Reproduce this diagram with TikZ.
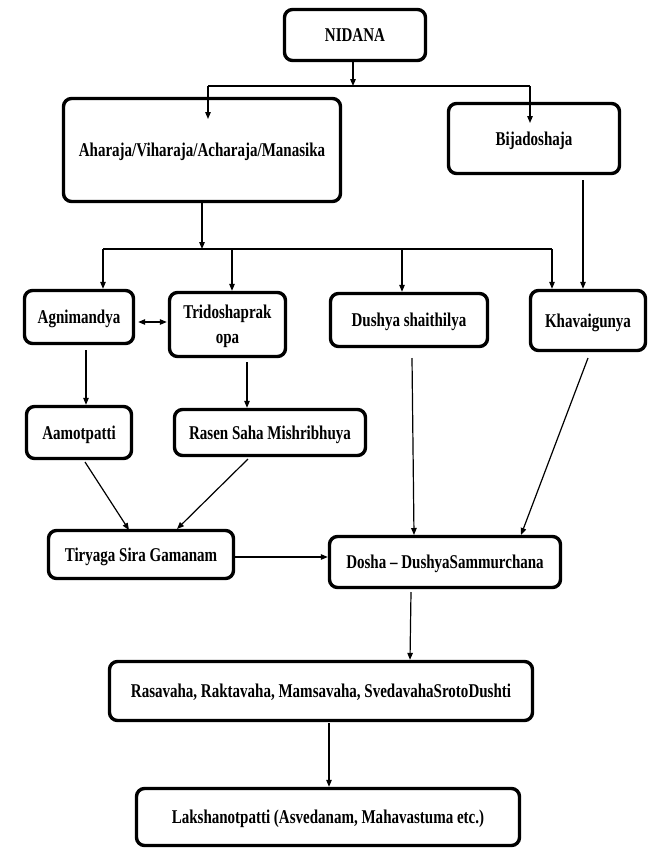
\documentclass[tikz,border=0pt]{standalone}
\usepackage{fontspec}
\setmainfont{Liberation Serif}[FakeStretch=0.77]
\usetikzlibrary{arrows.meta}
\begin{document}
\begin{tikzpicture}[x=1pt,y=-1pt,
  box/.style={draw=black, line width=3.4pt, rounded corners=8pt, fill=white,
    inner sep=2pt, align=center, text depth=0pt, font=\fontsize{19.5}{25}\selectfont\bfseries},
  conn/.style={draw=black, line width=1.2pt},
  arr/.style={conn, -{Triangle[length=7pt,width=5.5pt]}},
  darr/.style={conn, {Triangle[length=7pt,width=5.5pt]}-{Triangle[length=7pt,width=5.5pt]}}]
\useasboundingbox (0,0) rectangle (668,849);
% nodes
\node[box, minimum width=141pt, minimum height=51pt] (nidana) at (355,35) {NIDANA};
\node[box, minimum width=277pt, minimum height=103pt] (ahara) at (202,150) {Aharaja/Viharaja/Acharaja/Manasika};
\node[box, minimum width=171pt, minimum height=70pt] (bija) at (534,138.5) {Bijadoshaja};
\node[box, minimum width=109pt, minimum height=53pt] (agni) at (79,317) {Agnimandya};
\node[box, minimum width=116pt, minimum height=64pt] (tri) at (227.5,324.5) {Tridoshaprak\\opa};
\node[box, minimum width=157pt, minimum height=53pt] (dushya) at (409,320) {Dushya shaithilya};
\node[box, minimum width=115pt, minimum height=60pt] (khava) at (588,320.5) {Khavaigunya};
\node[box, minimum width=105pt, minimum height=52pt] (aamo) at (79,432.5) {Aamotpatti};
\node[box, minimum width=191pt, minimum height=46pt] (rasen) at (270,432.5) {Rasen Saha Mishribhuya};
\node[box, minimum width=185pt, minimum height=48pt] (tiry) at (141,554.5) {Tiryaga Sira Gamanam};
\node[box, minimum width=231pt, minimum height=51pt] (dosha) at (445,562) {Dosha -- DushyaSammurchana};
\node[box, minimum width=423pt, minimum height=59pt] (rasa) at (321,691) {Rasavaha, Raktavaha, Mamsavaha, SvedavahaSrotoDushti};
\node[box, minimum width=383pt, minimum height=57pt] (laksh) at (328,817) {Lakshanotpatti (Asvedanam, Mahavastuma etc.)};
% helper coordinates
\coordinate (j1) at (353,86);
\coordinate (j1l) at (208,86);
\coordinate (j1r) at (530,86);
\coordinate (aharaIn) at (208,119);
\coordinate (bijaIn) at (530,123);
\coordinate (j2) at (202,249);
\coordinate (j2l) at (103,249);
\coordinate (j2r) at (552,249);
\coordinate (j2a) at (232,249);
\coordinate (j2b) at (402,249);
% connectors
\draw[arr] (nidana.south -| j1) -- (j1);
\draw[conn] (j1l) -- (j1r);
\draw[arr] (j1l) -- (aharaIn);
\draw[arr] (j1r) -- (bijaIn);
\draw[arr] (ahara.south -| j2) -- (j2);
\draw[conn] (j2l) -- (j2r);
\draw[arr] (j2l) -- (agni.north -| j2l);
\draw[arr] (j2a) -- (tri.north -| j2a);
\draw[arr] (j2b) -- (dushya.north -| j2b);
\draw[arr] (j2r) -- (khava.north -| j2r);
\coordinate (bijaOut) at (583,180);
\draw[arr] (bijaOut) -- (khava.north -| bijaOut);
\draw[darr] ([xshift=3pt]agni.east |- 0,322) -- ([xshift=-1pt]tri.west |- 0,322);
\coordinate (agniOut) at (86,350);
\draw[arr] (agniOut) -- (aamo.north -| agniOut);
\coordinate (triOut) at (247,362);
\draw[arr] (triOut) -- (rasen.north -| triOut);
\coordinate (dushyaOut) at (412,358);
\coordinate (doshaIn1) at (414,535);
\draw[arr] (dushyaOut) -- (doshaIn1);
\coordinate (khavaOut) at (588,358);
\coordinate (doshaIn2) at (521,535);
\draw[arr] (khavaOut) -- (doshaIn2);
\coordinate (aamoOut) at (85,462);
\coordinate (tiryIn1) at (129,530);
\draw[arr] (aamoOut) -- (tiryIn1);
\coordinate (rasenOut) at (248,459);
\coordinate (tiryIn2) at (177,529);
\draw[arr] (rasenOut) -- (tiryIn2);
\draw[arr] (tiry.east |- 0,557) -- (dosha.west |- 0,557);
\coordinate (doshaOut) at (411,592);
\draw[arr] (doshaOut) -- (rasa.north -| 410,0);
\coordinate (rasaOut) at (329,723);
\draw[arr] (rasaOut) -- (laksh.north -| rasaOut);
\end{tikzpicture}
\end{document}
